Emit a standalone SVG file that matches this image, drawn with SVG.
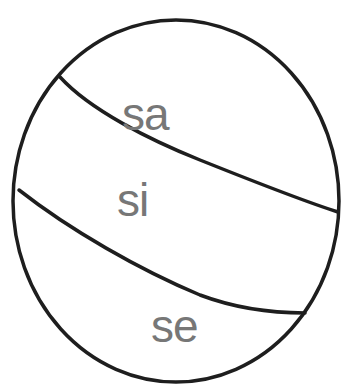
<svg xmlns="http://www.w3.org/2000/svg" width="344" height="391" viewBox="0 0 344 391">
<style>
.l{fill:none;stroke:#1e1e1e;stroke-width:3.5;stroke-linecap:round}
.t{font-family:"Liberation Sans",Arial,sans-serif;font-size:46px;fill:#777;letter-spacing:-1px}
</style>
<rect width="344" height="391" fill="#fff"/>
<g id="ball"><ellipse class="l" cx="176" cy="201" rx="163" ry="181"/></g>
<g id="connectors">
<path class="l" d="M60,77 C90,110 150,140 200,160 C250,180 300,200 338,212"/>
<path class="l" d="M19,190 C70,230 140,270 200,295 C240,310 275,313 305,313"/>
</g>
<g id="sa"><text class="t" x="122" y="130">sa</text></g>
<g id="si"><text class="t" x="117" y="216">si</text></g>
<g id="se"><text class="t" x="151" y="342">se</text></g>
</svg>
